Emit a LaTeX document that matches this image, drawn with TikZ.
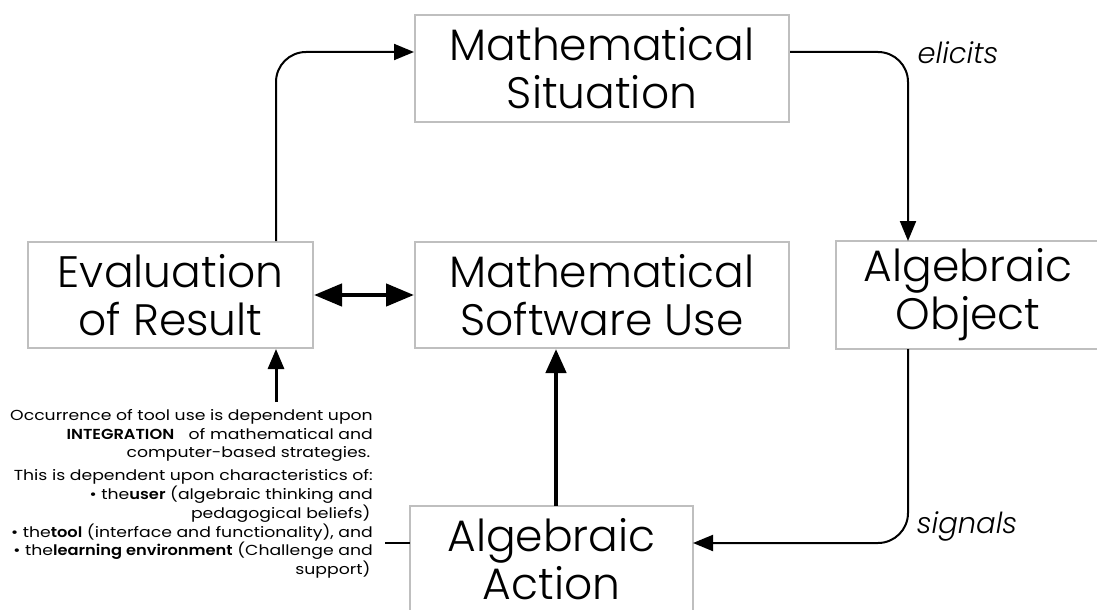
\documentclass[tikz,border=0pt]{standalone}
\usepackage{fontspec}
\setmainfont{Poppins}
\newfontfamily\notefont{Poppins}[FakeStretch=1.19,
  BoldFont={Poppins SemiBold}, BoldFeatures={FakeStretch=1.12}]
\newfontfamily\boxfont{Poppins Light}
\usetikzlibrary{arrows.meta}
\begin{document}
\begin{tikzpicture}[x=1pt,y=-1pt,
  frame/.style={draw=black!25, line width=2pt},
  box/.style={frame, align=center, inner sep=0pt,
    font=\boxfont\fontsize{44}{48}\selectfont},
  flow/.style={line width=2pt, -{Triangle[length=20pt,width=16pt]}},
  heavy/.style={line width=4.5pt, -{Triangle[length=24pt,width=20pt]}},
  both/.style={line width=4.5pt, {Triangle[length=28pt,width=22pt]}-{Triangle[length=28pt,width=22pt]}},
  verb/.style={font=\boxfont\fontsize{29}{32}\selectfont\itshape, inner sep=0pt},
  note/.style={font=\notefont\fontsize{14.5}{18.8}\selectfont, align=right, inner sep=0pt}]
\useasboundingbox (0,0) rectangle (1097,610);

% the five stages
\node[box, minimum width=374pt, minimum height=107pt] (ms)  at (602,68.5)  {Mathematical\\Situation};
\node[box, minimum width=285pt, minimum height=106pt] (ev)  at (170.5,295) {Evaluation\\of Result};
\node[box, minimum width=374pt, minimum height=106pt] (msu) at (602,295)   {Mathematical\\Software Use};
\node[box, draw=none, minimum width=262pt, minimum height=106pt] (ao) at (968,295) {Algebraic\\Object};
\node[box, draw=none, minimum width=281pt, minimum height=104pt] (aa) at (551.5,559) {Algebraic\\Action};
% the last two frames run past the edge of the page
\begin{scope}
\clip (0,0) rectangle (1097,610);
\draw[frame] (ao.north west) rectangle (ao.south east);
\draw[frame] (aa.north west) rectangle ([yshift=-8pt]aa.south east);
\end{scope}

% note on tool use
\node[note, anchor=north east] (nt) at (373,409) {Occurrence of tool use is dependent upon\\
  \textbf{INTEGRATION}\quad of mathematical and\\
  computer-based strategies.\,\\[4pt]
  This is dependent upon characteristics of:\\
  \textbullet{} the\textbf{user} (algebraic thinking and\\
  pedagogical beliefs)\,\\
  \textbullet{} the\textbf{tool} (interface and functionality), and\\
  \textbullet{} the\textbf{learning environment} (Challenge and\\
  support)\,};

% labels on the cycle
\node[verb] (el) at (958,53) {elicits};
\node[verb] (sg) at (967,526) {signals};

% the cycle
\draw[flow, rounded corners=30pt] ([xshift=105.5pt]ev.north) |- ([yshift=16.5pt]ms.west);
\draw[flow, rounded corners=30pt] ([yshift=16.5pt]ms.east) -| ([xshift=-60pt]ao.north);
\draw[flow, rounded corners=30pt] ([xshift=-60pt]ao.south) |- ([yshift=16pt]aa.east);
\draw[heavy] ([xshift=4.5pt]aa.north) -- ([xshift=4.5pt]aa.north |- msu.south);
\draw[both] (ev.east) -- (msu.west);

% links from the note
\coordinate (ntTop) at (276,402);
\draw[flow, line width=3pt] (ntTop) -- (ntTop |- ev.south);
\coordinate (ntRight) at (385,543);
\draw[line width=2pt] (ntRight) -- (ntRight -| aa.west);
\end{tikzpicture}
\end{document}
